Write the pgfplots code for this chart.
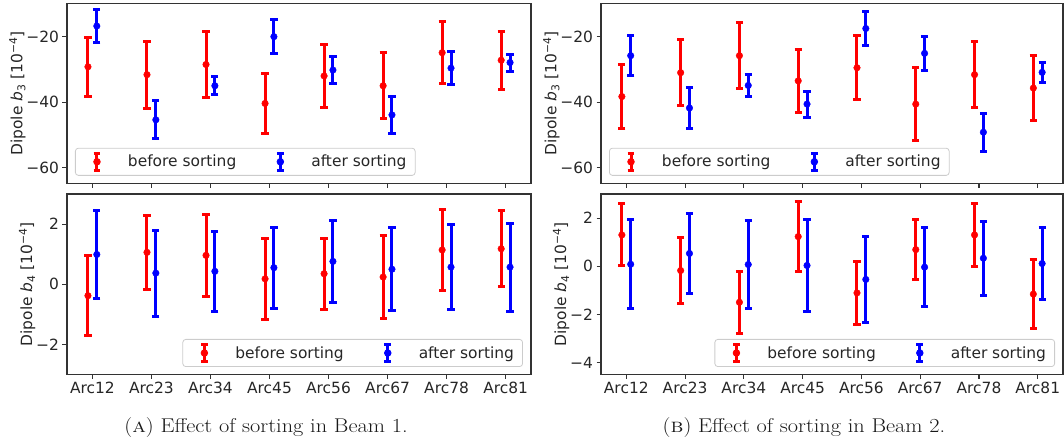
\documentclass[border=0pt]{standalone}
\usepackage{fontspec}
\setsansfont{DejaVu Sans}
\usepackage{graphicx}
\usepackage{pgfplots}
\usepackage{pgfplotstable}
\pgfplotsset{compat=1.18}

\newcommand\axf{\sffamily\fontsize{15.5}{18}\selectfont}

\pgfplotstableread{
x y e
-0.075 -29.2 9.1
0.925 -31.6 10.25
1.925 -28.5 10.2
2.925 -40.4 9.1
3.925 -32.0 9.65
4.925 -35.0 10.15
5.925 -24.9 9.4
6.925 -27.2 8.85
}\tAbb
\pgfplotstableread{
x y e
0.075 -16.75 5.15
1.075 -45.4 5.85
2.075 -35.0 2.8
3.075 -20.0 5.25
4.075 -30.2 4.2
5.075 -43.9 5.65
6.075 -29.6 5.15
7.075 -27.9 2.6
}\tAba
\pgfplotstableread{
x y e
-0.075 -0.38 1.34
0.925 1.06 1.22
1.925 0.96 1.37
2.925 0.18 1.35
3.925 0.35 1.18
4.925 0.24 1.38
5.925 1.14 1.34
6.925 1.18 1.27
}\tAcb
\pgfplotstableread{
x y e
0.075 0.99 1.45
1.075 0.37 1.43
2.075 0.43 1.33
3.075 0.55 1.35
4.075 0.76 1.37
5.075 0.50 1.38
6.075 0.57 1.42
7.075 0.57 1.46
}\tAca
\pgfplotstableread{
x y e
-0.075 -38.3 9.65
0.925 -31.0 10.0
1.925 -25.8 10.0
2.925 -33.5 9.6
3.925 -29.5 9.8
4.925 -40.6 11.2
5.925 -31.6 10.0
6.925 -35.7 9.85
}\tBbb
\pgfplotstableread{
x y e
0.075 -25.8 6.2
1.075 -41.8 6.15
2.075 -34.9 3.3
3.075 -40.6 3.95
4.075 -17.5 5.15
5.075 -25.1 5.1
6.075 -49.2 5.75
7.075 -30.9 3.1
}\tBba
\pgfplotstableread{
x y e
-0.075 1.30 1.29
0.925 -0.18 1.36
1.925 -1.50 1.29
2.925 1.23 1.44
3.925 -1.11 1.32
4.925 0.69 1.25
5.925 1.30 1.31
6.925 -1.16 1.42
}\tBcb
\pgfplotstableread{
x y e
0.075 0.08 1.85
1.075 0.53 1.65
2.075 0.07 1.84
3.075 0.03 1.93
4.075 -0.55 1.78
5.075 -0.04 1.65
6.075 0.33 1.53
7.075 0.11 1.51
}\tBca

\pgfplotsset{
  ebleg/.style={legend image code/.code={
    \path[draw=none, fill=none] (-15bp,-9.7bp) rectangle (29bp,9.7bp);
    \draw[#1, line width=3bp] (0,-8.3bp) -- (0,8.3bp);
    \draw[#1, line width=3bp] (-3.4bp,-8.3bp) -- (3.4bp,-8.3bp) (-3.4bp,8.3bp) -- (3.4bp,8.3bp);
    \fill[#1] (0,0) circle (3.3bp);
  }},
  ebplot/.style={#1, only marks, mark=*, mark size=3.3bp, mark options={#1, line width=0.4bp}, ebleg=#1,
    error bars/.cd, y dir=both, y explicit,
    error bar style={#1, line width=3bp},
    error mark options={#1, rotate=90, line width=3bp, mark size=3.6bp}},
  myax/.style={
    scale only axis,
    xmin=-0.43, xmax=7.43,
    xtick={0,1,2,3,4,5,6,7},
    axis line style={black!80, line width=1.1bp},
    tick style={black!80, line width=1.1bp},
    major tick length=4.5bp,
    tick align=outside,
    xtick pos=left, ytick pos=left,
    ticklabel style={font=\axf, text=black!85},
    ylabel style={font=\axf, text=black!85},
    ylabel shift=-6bp,
    legend columns=2,
    legend cell align=left,
    legend style={draw=black!20, line width=0.8bp, rounded corners=3bp, fill=white,
      inner xsep=6.6bp, inner ysep=3.8bp, font=\axf, text=black!85,
      /tikz/every even column/.append style={column sep=27bp}},
  },
}

\begin{document}
\begin{tikzpicture}
\path[use as bounding box] (0,0) rectangle (1064bp,445bp);

% (A) top
\begin{axis}[myax, at={(67bp,261.7bp)}, anchor=south west, width=464bp, height=180bp,
  ymin=-64.8, ymax=-9.8, ytick={-60,-40,-20}, yticklabels={−60,−40,−20},
  xticklabels={},
  ylabel={Dipole \textit{b}\textsubscript{3} [10\textsuperscript{−4}]},
  legend style={at={(axis description cs:0.0172,0.0417)}, anchor=south west}]
\addplot[ebplot=red] table[x=x, y=y, y error=e] {\tAbb};
\addlegendentry{before sorting}
\addplot[ebplot=blue] table[x=x, y=y, y error=e] {\tAba};
\addlegendentry{after sorting}
\end{axis}

% (A) bottom
\begin{axis}[myax, at={(67bp,70.5bp)}, anchor=south west, width=464bp, height=180.5bp,
  ymin=-3, ymax=3, ytick={-2,0,2}, yticklabels={−2,0,2},
  xticklabels={Arc12,Arc23,Arc34,Arc45,Arc56,Arc67,Arc78,Arc81},
  ylabel={Dipole \textit{b}\textsubscript{4} [10\textsuperscript{−4}]},
  legend style={at={(axis description cs:0.9827,0.0416)}, anchor=south east}]
\addplot[ebplot=red] table[x=x, y=y, y error=e] {\tAcb};
\addlegendentry{before sorting}
\addplot[ebplot=blue] table[x=x, y=y, y error=e] {\tAca};
\addlegendentry{after sorting}
\end{axis}

% (B) top
\begin{axis}[myax, at={(601bp,261.7bp)}, anchor=south west, width=462bp, height=180bp,
  ymin=-64.8, ymax=-9.8, ytick={-60,-40,-20}, yticklabels={−60,−40,−20},
  xticklabels={},
  ylabel={Dipole \textit{b}\textsubscript{3} [10\textsuperscript{−4}]},
  legend style={at={(axis description cs:0.0173,0.0417)}, anchor=south west}]
\addplot[ebplot=red] table[x=x, y=y, y error=e] {\tBbb};
\addlegendentry{before sorting}
\addplot[ebplot=blue] table[x=x, y=y, y error=e] {\tBba};
\addlegendentry{after sorting}
\end{axis}

% (B) bottom
\begin{axis}[myax, at={(601bp,70.5bp)}, anchor=south west, width=462bp, height=180.5bp,
  ymin=-4.5, ymax=3, ytick={-4,-2,0,2}, yticklabels={−4,−2,0,2},
  xticklabels={Arc12,Arc23,Arc34,Arc45,Arc56,Arc67,Arc78,Arc81},
  ylabel={Dipole \textit{b}\textsubscript{4} [10\textsuperscript{−4}]},
  legend style={at={(axis description cs:0.9827,0.0416)}, anchor=south east}]
\addplot[ebplot=red] table[x=x, y=y, y error=e] {\tBcb};
\addlegendentry{before sorting}
\addplot[ebplot=blue] table[x=x, y=y, y error=e] {\tBca};
\addlegendentry{after sorting}
\end{axis}

\node[anchor=base, text=black!90] at (266bp,12.7bp)
  {\scalebox{1.12}[1]{\fontsize{20}{24}\selectfont (\textsc{a}) Effect of sorting in Beam 1.}};
\node[anchor=base, text=black!90] at (804bp,12.7bp)
  {\scalebox{1.12}[1]{\fontsize{20}{24}\selectfont (\textsc{b}) Effect of sorting in Beam 2.}};
\end{tikzpicture}
\end{document}
